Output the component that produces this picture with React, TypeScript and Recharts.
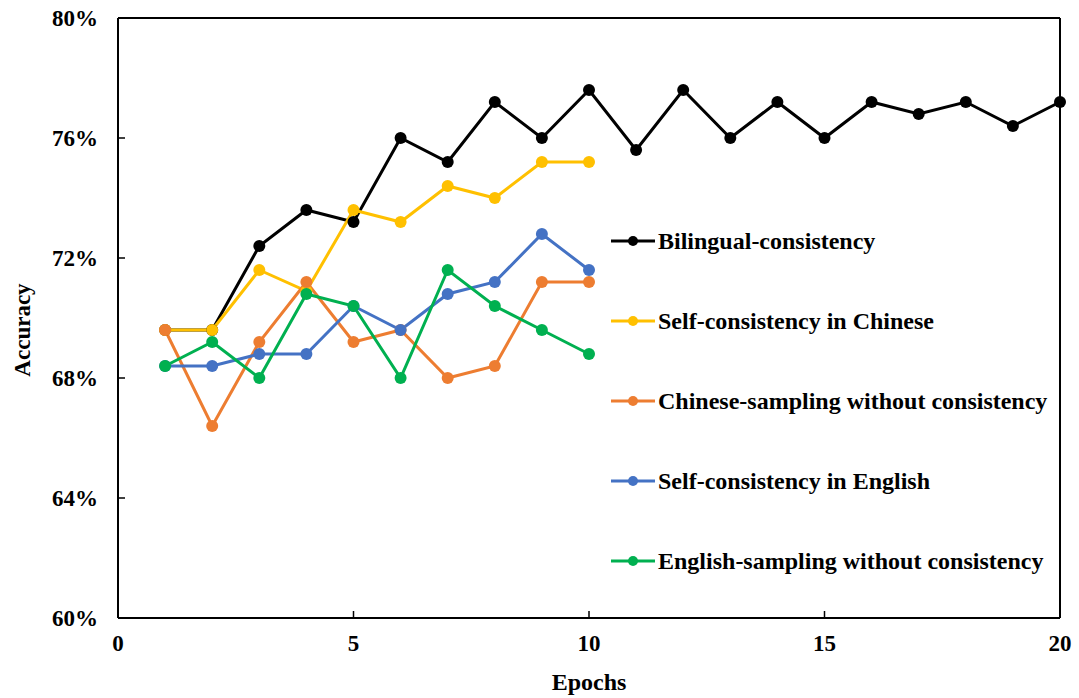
import { LineChart, Line, XAxis, YAxis, ReferenceLine } from "recharts";

const epochs = [1, 2, 3, 4, 5, 6, 7, 8, 9, 10, 11, 12, 13, 14, 15, 16, 17, 18, 19, 20];

const bilingual = [69.6, 69.6, 72.4, 73.6, 73.2, 76.0, 75.2, 77.2, 76.0, 77.6, 75.6, 77.6, 76.0, 77.2, 76.0, 77.2, 76.8, 77.2, 76.4, 77.2];
const selfChinese = [69.6, 69.6, 71.6, 70.9, 73.6, 73.2, 74.4, 74.0, 75.2, 75.2];
const chineseSampling = [69.6, 66.4, 69.2, 71.2, 69.2, 69.6, 68.0, 68.4, 71.2, 71.2];
const selfEnglish = [68.4, 68.4, 68.8, 68.8, 70.4, 69.6, 70.8, 71.2, 72.8, 71.6];
const englishSampling = [68.4, 69.2, 68.0, 70.8, 70.4, 68.0, 71.6, 70.4, 69.6, 68.8];

const yTicks = [60, 64, 68, 72, 76, 80];
const xTicks = [0, 5, 10, 15, 20];

const series = [
  { key: "bilingual", name: "Bilingual-consistency", color: "#000000", values: bilingual },
  { key: "selfChinese", name: "Self-consistency in Chinese", color: "#FFC000", values: selfChinese },
  { key: "chineseSampling", name: "Chinese-sampling without consistency", color: "#ED7D31", values: chineseSampling },
  { key: "selfEnglish", name: "Self-consistency in English", color: "#4472C4", values: selfEnglish },
  { key: "englishSampling", name: "English-sampling without consistency", color: "#00B050", values: englishSampling },
];

const data = epochs.map((epoch, i) => {
  const row: Record<string, number | undefined> = { epoch };
  series.forEach((s) => {
    row[s.key] = s.values[i];
  });
  return row;
});

const font = "'Liberation Serif', 'Times New Roman', serif";

// legend sits inside the plot, drawn as an overlay so it doesn't shrink the chart
const LegendBox = () => (
  <div
    style={{
      position: "absolute",
      left: 611,
      top: 201,
      fontFamily: font,
      fontWeight: 700,
      fontSize: 24,
      color: "#000",
    }}
  >
    {series.map((s) => (
      <div key={s.key} style={{ display: "flex", alignItems: "center", height: 80 }}>
        <svg width={47} height={14} style={{ flexShrink: 0 }}>
          <line x1={0} y1={7} x2={44} y2={7} stroke={s.color} strokeWidth={3} />
          <circle cx={22} cy={7} r={5} fill={s.color} />
        </svg>
        <span style={{ whiteSpace: "nowrap" }}>{s.name}</span>
      </div>
    ))}
  </div>
);

const App = () => {
  return (
    <div style={{ position: "absolute", left: 0, top: 0, background: "#fff" }}>
      <LineChart width={1079} height={698} data={data} margin={{ top: 18, right: 19, bottom: 0, left: 0 }}>
        <XAxis
          dataKey="epoch"
          type="number"
          domain={[0, 20]}
          ticks={xTicks}
          height={80}
          axisLine={{ stroke: "#000", strokeWidth: 2 }}
          tickLine={{ stroke: "#000", strokeWidth: 1.5 }}
          tickSize={-7}
          tickMargin={24}
          tick={{ fill: "#000", fontSize: 23, fontWeight: 700, fontFamily: font }}
          label={{ value: "Epochs", position: "insideBottom", offset: 8, fill: "#000", fontSize: 24, fontWeight: 700, fontFamily: font }}
        />
        <YAxis
          type="number"
          domain={[60, 80]}
          ticks={yTicks}
          width={118}
          interval={0}
          axisLine={{ stroke: "#000", strokeWidth: 2 }}
          tickLine={{ stroke: "#000", strokeWidth: 1.5 }}
          tickSize={-7}
          tickMargin={27}
          tickFormatter={(v) => `${v}%`}
          tick={{ fill: "#000", fontSize: 23, fontWeight: 700, fontFamily: font }}
          label={{
            content: (props: any) => {
              const vb = props.viewBox;
              const cx = 22;
              const cy = vb.y + vb.height / 2 + 12;
              return (
                <text
                  x={cx}
                  y={cy}
                  transform={`rotate(-90 ${cx} ${cy})`}
                  textAnchor="middle"
                  dominantBaseline="central"
                  fill="#000"
                  fontSize={23}
                  fontWeight={700}
                  fontFamily={font}
                >
                  Accuracy
                </text>
              );
            },
          }}
        />
        <ReferenceLine y={80} stroke="#000" strokeWidth={2} />
        <ReferenceLine x={20} stroke="#000" strokeWidth={2} />
        {series.map((s) => (
          <Line
            key={s.key}
            type="linear"
            dataKey={s.key}
            name={s.name}
            stroke={s.color}
            strokeWidth={3}
            dot={{ r: 6, fill: s.color, stroke: s.color, strokeWidth: 0 }}
            activeDot={false}
            isAnimationActive={false}
          />
        ))}
      </LineChart>
      <LegendBox />
    </div>
  );
};

export default App;
